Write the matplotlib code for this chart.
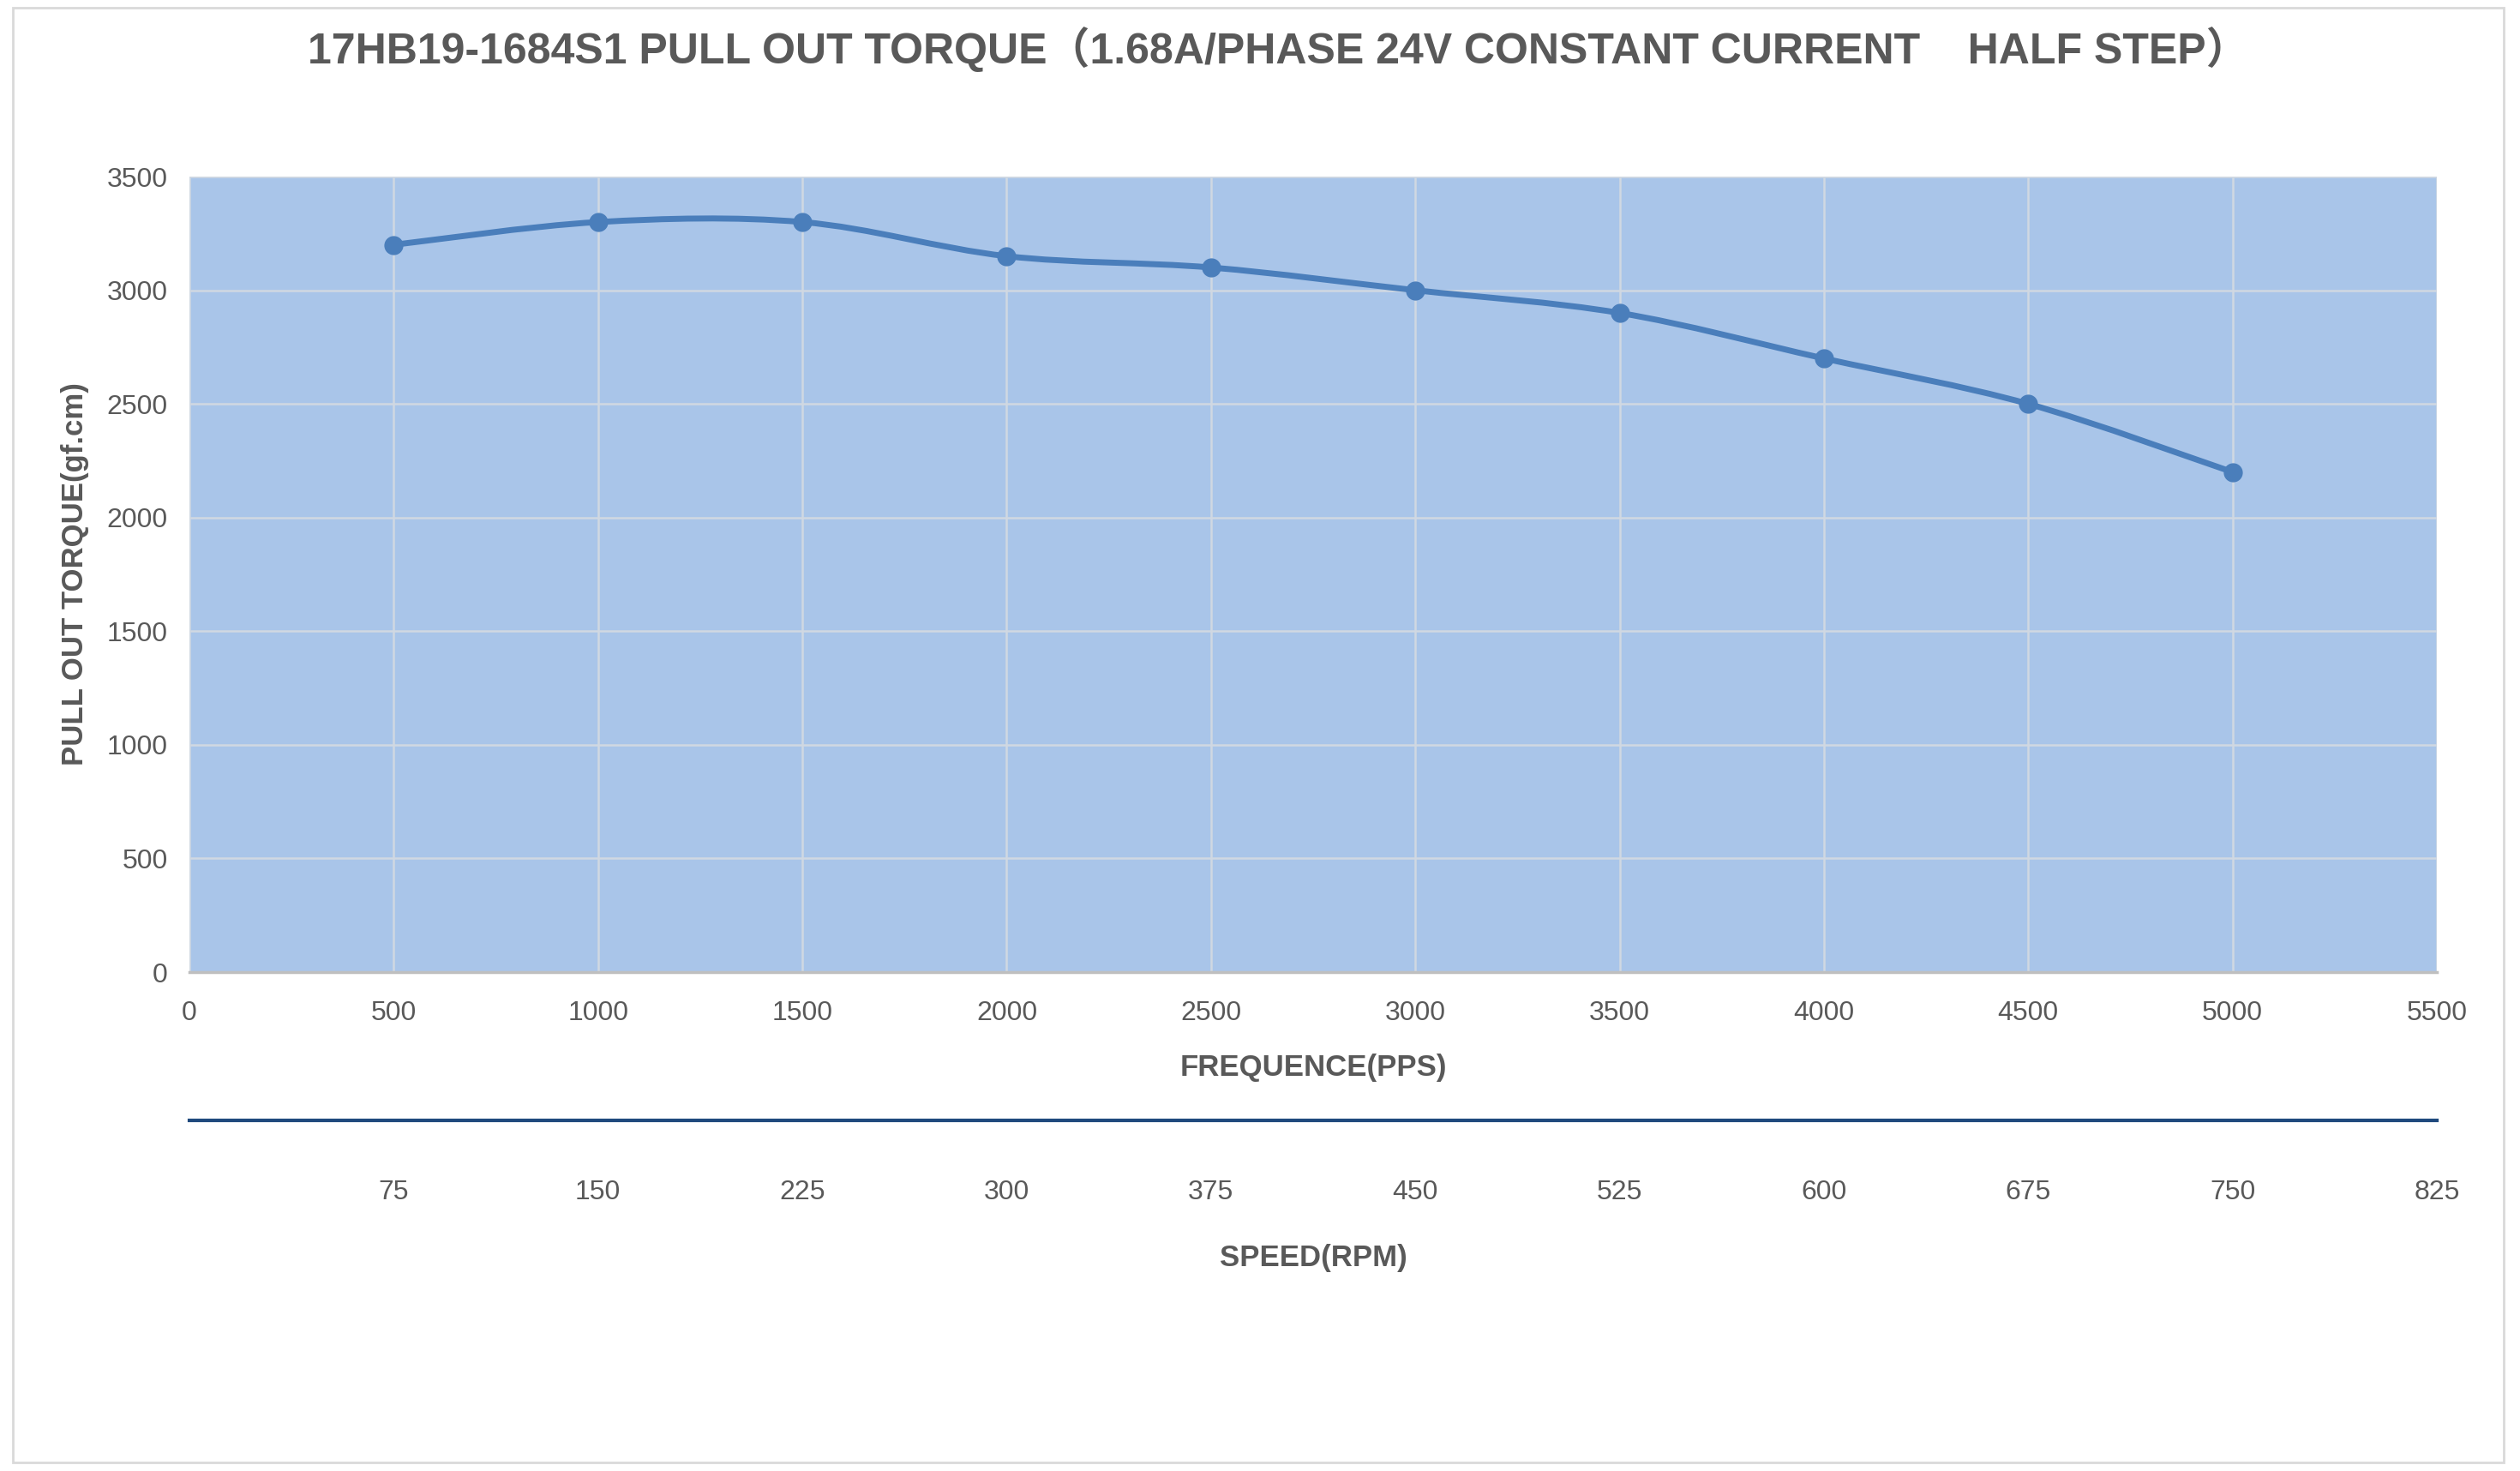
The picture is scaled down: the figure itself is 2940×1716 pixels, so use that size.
import matplotlib
matplotlib.use("Agg")
import matplotlib.pyplot as plt
from matplotlib.path import Path
from matplotlib.patches import PathPatch, Rectangle
import numpy as np

# ---- data ----
freq_pps = [500, 1000, 1500, 2000, 2500, 3000, 3500, 4000, 4500, 5000]
torque = [3200, 3300, 3300, 3150, 3100, 3000, 2900, 2700, 2500, 2200]
x_ticks = [0, 500, 1000, 1500, 2000, 2500, 3000, 3500, 4000, 4500, 5000, 5500]
y_ticks = [0, 500, 1000, 1500, 2000, 2500, 3000, 3500]
speed_ticks = [75, 150, 225, 300, 375, 450, 525, 600, 675, 750, 825]
rpm_per_pps = 0.15

title = "17HB19-1684S1 PULL OUT TORQUE（1.68A/PHASE 24V CONSTANT CURRENT    HALF STEP）"
xlabel = "FREQUENCE(PPS)"
ylabel = "PULL OUT TORQUE(gf.cm)"
speed_label = "SPEED(RPM)"

FAM = ["Liberation Sans", "Noto Sans CJK SC", "DejaVu Sans"]
plt.rcParams["font.family"] = FAM

TXT = "#595959"
LINE = "#4A7EBB"
BG = "#A9C5E9"

fig = plt.figure(figsize=(29.4, 17.16), dpi=100)
fig.patch.set_facecolor("white")
fig.add_artist(Rectangle((15 / 2940, 1 - 1706 / 1716), (2921 - 15) / 2940, (1706 - 9) / 1716,
                         transform=fig.transFigure, fill=False, edgecolor="#D9D9D9", lw=2))

L, R, T, B = 221 / 2940, 2843 / 2940, 1 - 206 / 1716, 1 - 1134 / 1716
ax = fig.add_axes([L, B, R - L, T - B])
ax.set_facecolor(BG)
ax.set_xlim(0, 5500)
ax.set_ylim(0, 3500)
ax.set_xticks(x_ticks)
ax.set_yticks(y_ticks)
ax.grid(True, color="#D0D8E2", lw=1.8)
ax.set_axisbelow(True)
for s in ["top", "right", "left"]:
    ax.spines[s].set_visible(False)
ax.spines["bottom"].set_color("#BFBFBF")
ax.spines["bottom"].set_linewidth(2.5)
ax.tick_params(axis="both", length=0, labelsize=23, labelcolor=TXT)
ax.tick_params(axis="x", pad=24)
ax.tick_params(axis="y", pad=18)

# smoothed line (Excel-style Catmull-Rom bezier)
P = np.column_stack([freq_pps, torque]).astype(float)
n = len(P)
verts = [tuple(P[0])]
codes = [Path.MOVETO]
for i in range(n - 1):
    p0 = P[i - 1] if i > 0 else P[i]
    p1 = P[i]
    p2 = P[i + 1]
    p3 = P[i + 2] if i + 2 < n else P[i + 1]
    c1 = p1 + (p2 - p0) / 6
    c2 = p2 - (p3 - p1) / 6
    verts += [tuple(c1), tuple(c2), tuple(p2)]
    codes += [Path.CURVE4] * 3
ax.add_patch(PathPatch(Path(verts, codes), fill=False, edgecolor=LINE, lw=5, capstyle="round", zorder=3))
ax.plot(freq_pps, torque, "o", color=LINE, markersize=15, zorder=4)

ax.text((1491 - 221) / 2622, 1 + (206 - 58) / 928, title, transform=ax.transAxes,
        fontsize=36, fontweight="bold", color=TXT, ha="center", va="center")
ax.set_ylabel(ylabel, fontsize=25, fontweight="bold", color=TXT, labelpad=15)
fig.text((L + R) / 2, 1 - 1245 / 1716, xlabel, fontsize=25, fontweight="bold", color=TXT, ha="center", va="center")
fig.text((L + R) / 2, 1 - 1468 / 1716, speed_label, fontsize=25, fontweight="bold", color=TXT, ha="center", va="center")

sec = ax.secondary_xaxis(-(1307 - 1134) / 928, functions=(lambda f: f * rpm_per_pps, lambda s: s / rpm_per_pps))
sec.set_xticks(speed_ticks)
sec.spines["bottom"].set_color("#1F497D")
sec.spines["bottom"].set_linewidth(3)
sec.tick_params(axis="x", length=0, labelsize=23, labelcolor=TXT, pad=50)

fig.savefig("out.png", dpi=100)
